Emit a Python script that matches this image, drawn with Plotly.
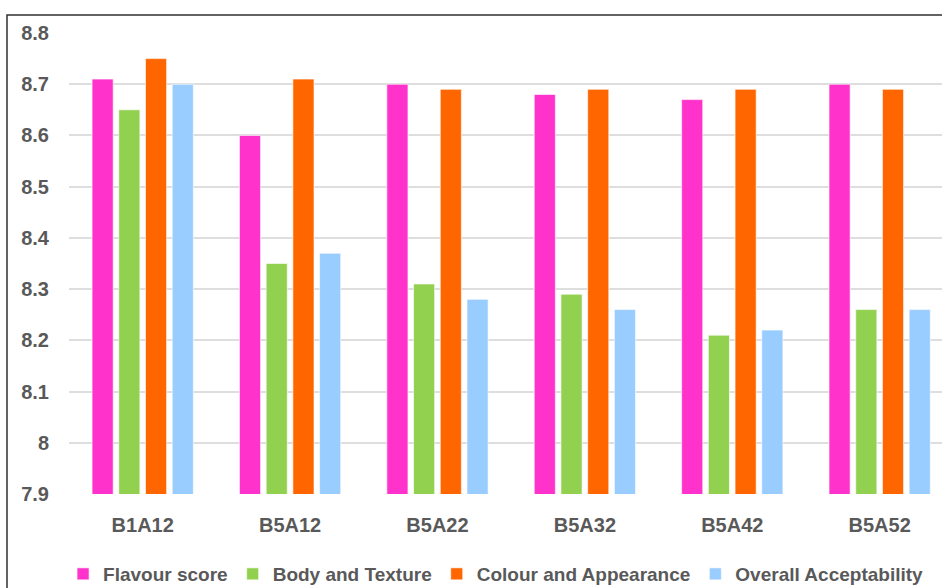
import plotly.graph_objects as go

categories = ["B1A12", "B5A12", "B5A22", "B5A32", "B5A42", "B5A52"]
flavour = [8.71, 8.60, 8.70, 8.68, 8.67, 8.70]
body = [8.65, 8.35, 8.31, 8.29, 8.21, 8.26]
colour = [8.75, 8.71, 8.69, 8.69, 8.69, 8.69]
overall = [8.70, 8.37, 8.28, 8.26, 8.22, 8.26]

series = [
    ("Flavour score", flavour, "#FF33CC"),
    ("Body and Texture", body, "#92D050"),
    ("Colour and Appearance", colour, "#FF6600"),
    ("Overall Acceptability", overall, "#99CCFF"),
]

fig = go.Figure()
for name, vals, col in series:
    fig.add_trace(go.Bar(
        x=list(range(len(categories))), y=vals, name=name,
        marker=dict(color=col, line=dict(color="rgba(255,255,255,0.6)", width=1)),
    ))

FONT = "Liberation Sans"
fig.update_layout(
    width=942, height=588,
    margin=dict(l=69, r=0, t=33, b=94),
    paper_bgcolor="white", plot_bgcolor="white",
    barmode="group", bargap=0.275, bargroupgap=0.21,
    font=dict(family=FONT, color="#595959"),
    showlegend=True,
    legend=dict(orientation="h", x=0.4886, xanchor="center",
                yref="container", y=1 - 574 / 588, yanchor="middle",
                bgcolor="rgba(0,0,0,0)",
                font=dict(size=19, family=FONT, color="#595959", weight="bold"),
                itemwidth=30, traceorder="normal"),
    xaxis=dict(
        tickmode="array", tickvals=list(range(len(categories))), ticktext=categories,
        range=[-0.5, 5.423], showgrid=False, zeroline=False, showline=False,
        ticks="outside", ticklen=13, tickcolor="rgba(0,0,0,0)",
        tickfont=dict(size=20, family=FONT, color="#595959", weight="bold"),
    ),
    yaxis=dict(
        range=[7.9, 8.8], tickmode="array",
        tickvals=[7.9, 8.0, 8.1, 8.2, 8.3, 8.4, 8.5, 8.6, 8.7, 8.8],
        ticktext=["7.9", "8", "8.1", "8.2", "8.3", "8.4", "8.5", "8.6", "8.7", "8.8"],
        showgrid=True, gridcolor="#DEDEDE", gridwidth=1.5, zeroline=False, showline=False,
        ticks="outside", ticklen=15, tickcolor="rgba(0,0,0,0)",
        tickfont=dict(size=20, family=FONT, color="#595959", weight="bold"),
    ),
    shapes=[dict(type="rect", xref="paper", yref="paper",
                 x0=(7 - 69) / 873, x1=1.2, y0=-0.5, y1=1 + (33 - 15) / 461,
                 line=dict(color="#303030", width=1.5), layer="below")],
)

fig.write_html("out.html", config={"displayModeBar": False},
               post_script="document.body.style.margin='0';")
